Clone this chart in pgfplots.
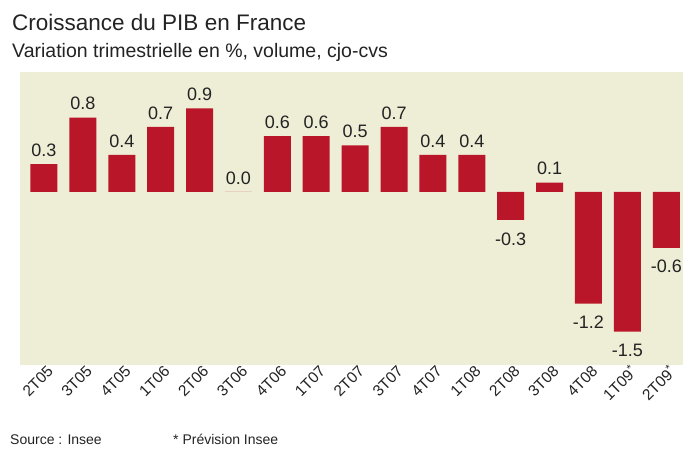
\documentclass[border=0pt]{standalone}
\usepackage{pgfplots}
\pgfplotsset{compat=1.18}
\usepackage{fontspec}
\setmainfont{Liberation Sans}
\definecolor{barred}{RGB}{186,22,42}
\definecolor{panel}{RGB}{238,237,214}
\definecolor{txt}{RGB}{35,35,35}
\begin{document}
\begin{tikzpicture}
\useasboundingbox (0pt,0pt) rectangle (683pt,-448pt);
\node[anchor=base west, font=\fontsize{22.5}{26}\selectfont, text=txt, inner sep=0pt] at (12pt,-30pt) {Croissance du PIB en France};
\node[anchor=base west, font=\fontsize{19.5}{22}\selectfont, text=txt, inner sep=0pt] at (12pt,-57pt) {Variation trimestrielle en \%, volume, cjo-cvs};
\node[anchor=base west, font=\fontsize{14}{16}\selectfont, text=txt, inner sep=0pt] at (10pt,-444pt) {Source : Insee};
\node[anchor=base west, font=\fontsize{14}{16}\selectfont, text=txt, inner sep=0pt] at (173pt,-444pt) {* Prévision Insee};
\begin{axis}[
  at={(20pt,-365pt)}, anchor=south west,
  scale only axis, width=663pt, height=293pt,
  xmin=-0.617, xmax=16.43, ymin=-1.86, ymax=1.29,
  axis background/.style={fill=panel},
  axis line style={draw=none},
  ytick=\empty,
  xtick={0,...,16},
  xticklabels={2T05,3T05,4T05,1T06,2T06,3T06,4T06,1T07,2T07,3T07,4T07,1T08,2T08,3T08,4T08,1T09\textsuperscript{*},2T09\textsuperscript{*}},
  major tick length=0pt,
  xticklabel style={rotate=45, anchor=east, xshift=3pt, yshift=-7pt, inner sep=1pt, font=\fontsize{15.5}{18}\selectfont, text=txt},
  ybar, bar width=27pt, bar shift=0pt,
  point meta=explicit symbolic,
  nodes near coords,
  clip=false,
]
\addplot[fill=barred, draw=none, every node near coord/.append style={anchor=south, yshift=4pt, font=\fontsize{18}{20}\selectfont, text=txt}] table[meta=lab] {
x y lab
0 0.3 0.3
1 0.8 0.8
2 0.4 0.4
3 0.7 0.7
4 0.9 0.9
5 0.0 0.0
6 0.6 0.6
7 0.6 0.6
8 0.5 0.5
9 0.7 0.7
10 0.4 0.4
11 0.4 0.4
13 0.1 0.1
};
\addplot[fill=barred, draw=none, every node near coord/.append style={anchor=north, yshift=-9pt, font=\fontsize{18}{20}\selectfont, text=txt}] table[meta=lab] {
x y lab
12 -0.3 -0.3
14 -1.2 -1.2
15 -1.5 -1.5
16 -0.6 -0.6
};
\end{axis}
\end{tikzpicture}
\end{document}
